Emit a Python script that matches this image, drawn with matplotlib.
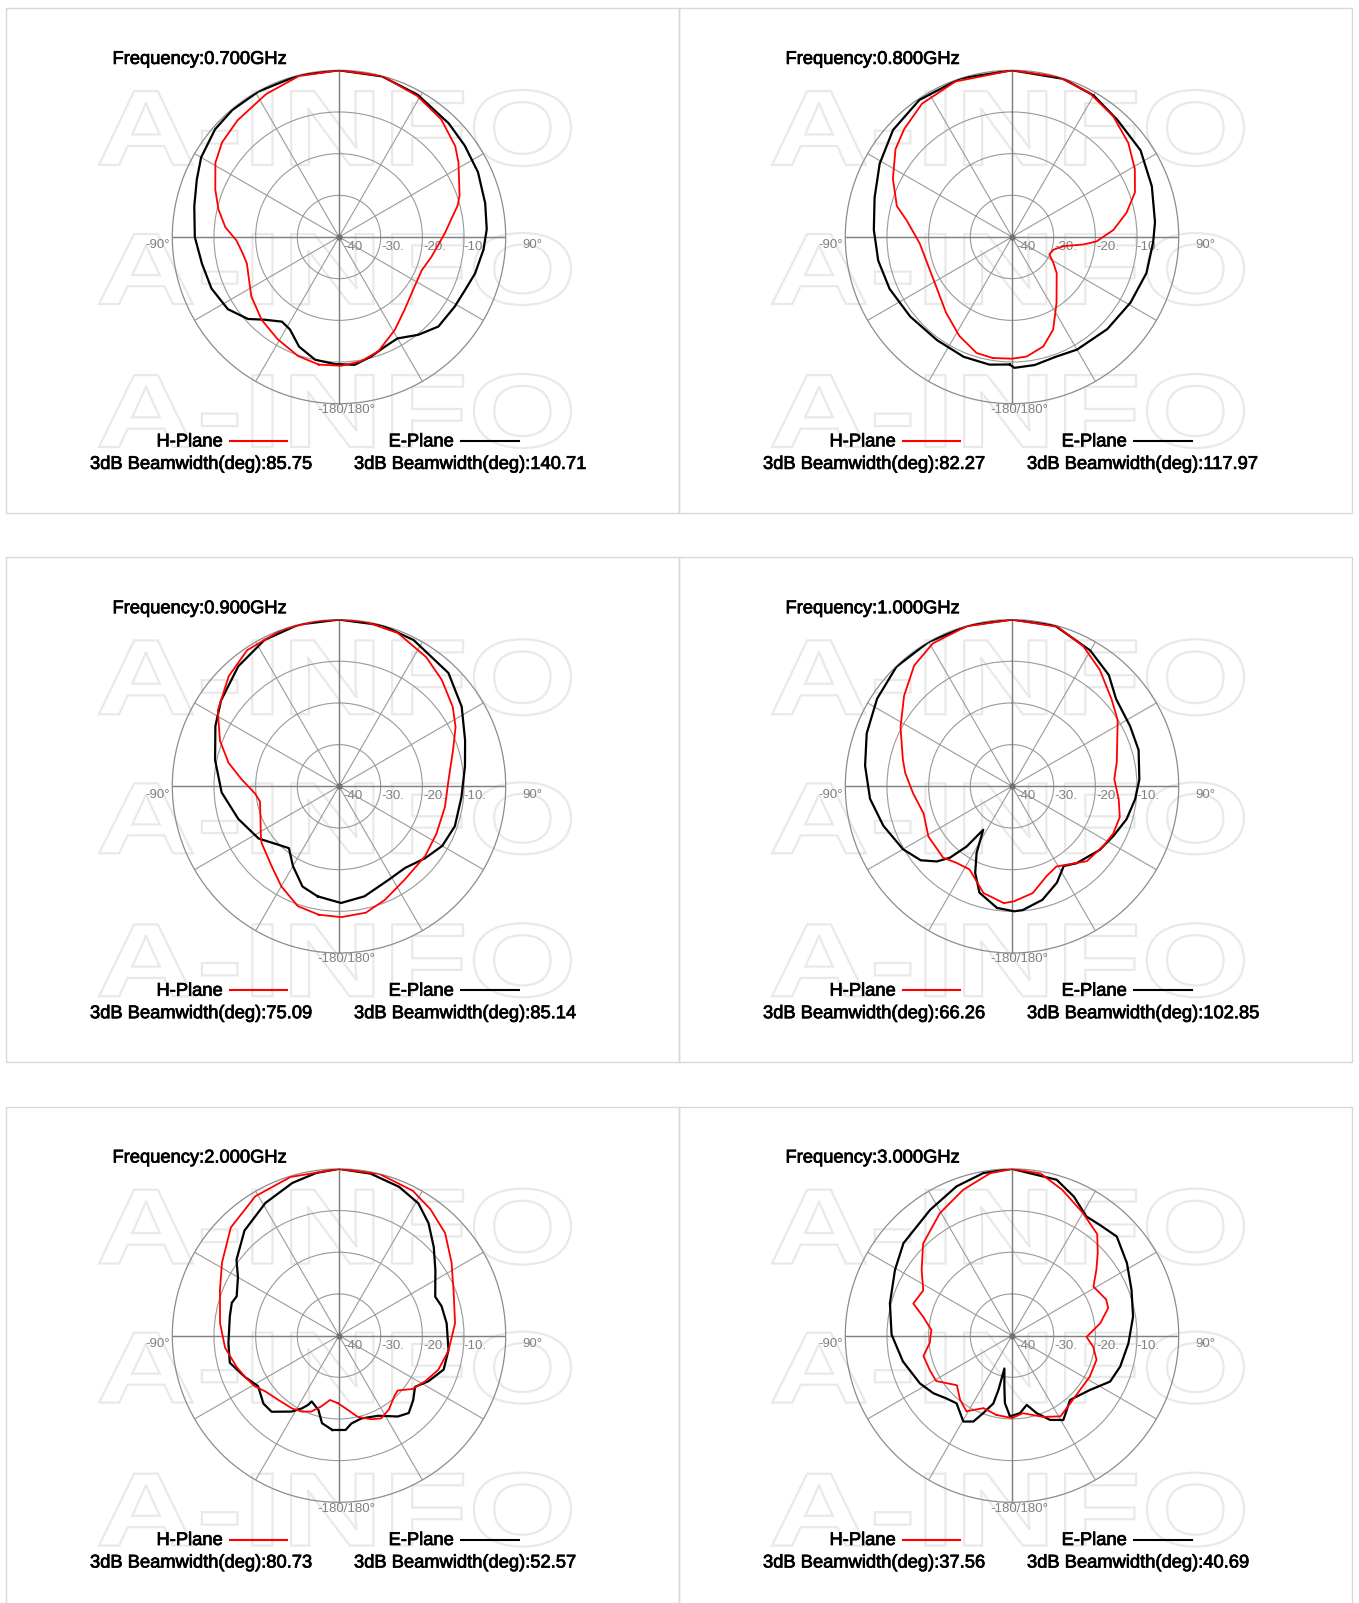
import numpy as np
import matplotlib
matplotlib.use("Agg")
import matplotlib.pyplot as plt
import matplotlib.patheffects as pe
from matplotlib.patches import PathPatch, Rectangle
from matplotlib.textpath import TextPath
from matplotlib.font_manager import FontProperties
from matplotlib.transforms import Affine2D

plt.rcParams['font.family'] = ['Liberation Sans', 'DejaVu Sans']

W, H = 1359, 1603

frequencies = ["0.700", "0.800", "0.900", "1.000", "2.000", "3.000"]
h_beamwidths = ["85.75", "82.27", "75.09", "66.26", "80.73", "37.56"]
e_beamwidths = ["140.71", "117.97", "85.14", "102.85", "52.57", "40.69"]

# angle in deg (0 = top, clockwise), gain in dB (0 at outer ring, -40 at centre)
h07_ang = [-171, -161, -149, -137, -124, -106, -100, -92, -85, -77, -69, -59, -51, -41, -27, -14, 0, 15, 29, 41,
           52, 58, 71, 75, 88, 102, 112, 125, 138, 149, 161, 170, 179]
h07_db = [-9.0, -9.8, -11.4, -12.8, -14.6, -17.0, -16.6, -15.4, -12.6, -10.3, -8.2, -5.4, -3.9, -2.9, -1.5, -0.2, 0.0,
          0.0, -1.3, -2.6, -4.6, -6.2, -9.4, -10.5, -14.6, -17.3, -18.6, -18.2, -16.5, -14.0, -11.0, -9.7, -9.1]
e07_ang = [-178, -169, -160, -152, -146, -138, -132, -123, -112, -101, -90, -78, -68, -60, -49, -40, -29, -14, 0, 15,
           29, 44, 54, 65, 77, 87, 95, 105, 113, 121, 132, 141, 150, 157, 165, 173]
e07_db = [-9.5, -10.0, -12.0, -14.9, -15.5, -13.3, -10.6, -8.2, -7.0, -6.5, -5.4, -4.5, -3.2, -1.8, -0.6, -0.2, -0.1,
          0.0, 0.0, -0.1, -1.0, -2.1, -2.7, -3.2, -4.0, -4.5, -5.2, -6.2, -7.2, -7.6, -7.9, -9.8, -11.9, -11.5, -10.3,
          -9.1]

h08_ang = [-171, -163, -152, -139, -118, -94, -81, -75, -64, -53, -45, -34, -20, 0, 16, 28, 40, 51, 61, 70,
           78, 86, 93, 96, 100, 107, 115, 122, 129, 146, 156, 164, 173, 180]
h08_db = [-10.6, -10.9, -13.1, -15.9, -18.6, -17.8, -14.4, -11.4, -8.2, -5.0, -3.4, -1.4, -0.3, 0.0, 0.0, -0.7, -2.2,
          -4.1, -6.3, -8.6, -11.9, -15.6, -19.7, -22.8, -27.4, -29.6, -30.1, -28.3, -26.2, -20.9, -15.7, -12.7, -11.1,
          -10.8]
e08_ang = [-179, -170, -158, -144, -128, -113, -100, -87, -74, -61, -48, -34, -18, 0, 18, 30, 42, 56, 70, 84,
           92, 105, 119, 134, 150, 160, 170, 179]
e08_db = [-9.4, -8.9, -9.0, -9.4, -9.0, -8.1, -7.4, -6.8, -5.7, -3.7, -1.6, -0.3, 0.0, 0.0, -0.1, -0.8, -2.2, -2.8,
          -4.3, -5.5, -6.1, -6.6, -7.5, -8.2, -8.8, -9.4, -8.8, -8.6]

h09_ang = [-171, -161, -150, -140, -126, -121, -111, -101, -95, -86, -78, -69, -58, -45, -34, -20, -8, 0, 9, 21,
           34, 44, 55, 63, 72, 87, 101, 116, 129, 145, 158, 168, 179]
h09_db = [-8.8, -9.6, -12.3, -14.9, -17.0, -18.1, -19.8, -20.7, -19.8, -16.6, -12.9, -9.4, -5.7, -2.6, -0.6, 0.0, 0.0,
          0.0, 0.0, -0.6, -2.6, -4.5, -6.7, -8.6, -11.2, -13.7, -14.1, -14.0, -13.4, -12.6, -10.6, -9.0, -8.6]
e09_ang = [-169, -160, -150, -141, -134, -123, -108, -93, -78, -64, -54, -40, -27, -14, 0, 15, 27, 44, 57, 70,
           81, 95, 109, 120, 130, 141, 152, 167, 179]
e09_db = [-13.1, -14.4, -17.9, -20.9, -19.8, -17.0, -14.6, -11.8, -9.6, -7.0, -5.0, -2.4, -0.6, 0.0, 0.0, 0.0, -0.6,
          -2.2, -4.9, -7.8, -9.4, -10.5, -10.6, -11.4, -13.1, -14.8, -14.6, -12.9, -12.0]

h10_ang = [-176, -165, -153, -144, -136, -121, -107, -94, -83, -76, -62, -50, -39, -29, -16, 0, 16, 27, 37, 49,
           58, 77, 86, 97, 106, 115, 123, 135, 151, 159, 169, 179]
h10_db = [-11.9, -13.5, -17.6, -17.3, -16.2, -16.6, -17.8, -16.2, -14.2, -13.0, -9.7, -6.2, -2.7, -0.8, -0.1, 0.0,
          -0.2, -2.3, -5.0, -8.3, -10.1, -14.2, -15.4, -14.2, -13.1, -13.2, -13.8, -14.6, -18.0, -16.9, -13.9, -12.4]
e10_ang = [-173, -163, -157, -152, -146.5, -143, -139, -135, -129, -120, -107, -95, -82, -70, -57, -44, -30, -15, 0,
           15, 30, 41, 50, 63, 74, 87, 96, 106, 116, 126, 140, 147, 155, 165, 175, 179]
e10_db = [-10.6, -13.3, -17.4, -21.9, -27.5, -21.9, -17.3, -14.5, -11.8, -9.8, -7.7, -5.8, -4.4, -2.9, -1.4, -0.1,
          0.0, 0.0, 0.0, -0.1, -2.4, -4.6, -7.4, -8.2, -8.4, -9.4, -10.3, -11.4, -12.9, -14.0, -15.9, -17.2, -14.5,
          -11.8, -10.2, -10.0]

h20_ang = [-179, -172, -166, -160, -154, -147, -137, -127, -121, -114, -107, -96, -84, -69, -58, -45, -31, -17, 0, 14,
           27, 36, 46, 57, 70, 84, 98, 109, 118, 126, 133, 137, 146, 153, 159, 167, 175]
h20_db = [-23.8, -24.4, -22.5, -20.6, -19.7, -19.2, -18.8, -17.8, -16.4, -15.4, -14.3, -12.5, -11.3, -9.4, -6.9, -3.3,
          -1.0, -0.2, 0.0, 0.0, -1.0, -2.6, -4.6, -7.8, -10.7, -12.0, -13.5, -14.8, -16.6, -18.2, -20.7, -20.4, -18.6,
          -17.7, -18.5, -20.0, -22.5]
e20_ang = [-176, -169, -164.5, -157.5, -156, -153, -148, -138.5, -132, -122, -114, -104, -94, -80, -73, -69, -60,
           -53.5, -42, -29, -17, -8, 0, 11, 22, 31, 38.5, 47, 56, 68, 74, 83.5, 97.5, 108, 117, 124, 131, 138, 144,
           154, 165, 172, 176]
e20_db = [-17.3, -18.6, -21.5, -22.9, -21.8, -20.4, -18.5, -15.6, -15.6, -17.1, -15.4, -13.0, -13.4, -13.4, -13.1,
          -13.7, -12.0, -9.4, -6.1, -3.6, -1.7, -0.6, 0.0, -0.4, -1.5, -3.0, -5.5, -8.9, -12.1, -15.1, -14.4, -14.0,
          -13.5, -13.6, -15.9, -18.0, -16.4, -15.0, -16.0, -18.6, -19.4, -18.7, -17.3]

h30_ang = [-169, -158.5, -149, -141, -132, -126, -121, -113, -103, -95, -86, -78, -72, -63, -54, -44, -30.5, -18.5,
           -7.7, 0, 10, 19, 30, 40, 46, 52, 59, 69, 74, 82, 91, 98, 106, 118, 129, 139, 149, 159, 172, 180]
h30_db = [-20.6, -21.3, -18.8, -20.2, -22.2, -20.6, -18.8, -18.6, -18.2, -20.2, -20.6, -18.2, -15.1, -16.1, -13.2,
          -9.3, -5.9, -3.1, -0.7, 0.0, -0.5, -3.0, -6.0, -8.2, -11.4, -14.3, -17.2, -15.8, -16.0, -18.6, -22.1, -20.3,
          -18.9, -18.9, -19.1, -18.6, -17.4, -19.1, -21.2, -20.2]
e30_ang = [-178.6, -174, -171.5, -167, -166, -164.6, -159.7, -155.8, -150.5, -140.7, -133.8, -126.2, -117.4, -103.3,
           -89.5, -75.2, -60.7, -49.6, -33.1, -20.4, -10, 0, 16, 24, 32, 38.5, 46.6, 57.8, 69.1, 81.1, 93.8, 106,
           115.1, 124.9, 137.9, 148.7, 155.7, 162.4, 168, 174.1]
e30_db = [-20.6, -23.7, -27.6, -31.9, -26.6, -23.1, -20.2, -17.4, -16.3, -19.0, -18.2, -16.6, -15.1, -13.1, -11.1,
          -9.7, -7.8, -5.8, -4.0, -1.8, -0.4, 0.0, -1.1, -3.5, -6.3, -6.1, -5.4, -7.4, -9.3, -10.6, -12.0, -13.0,
          -14.0, -17.2, -19.2, -16.3, -17.8, -20.5, -23.0, -21.3]

patterns = [
    (h07_ang, h07_db, e07_ang, e07_db),
    (h08_ang, h08_db, e08_ang, e08_db),
    (h09_ang, h09_db, e09_ang, e09_db),
    (h10_ang, h10_db, e10_ang, e10_db),
    (h20_ang, h20_db, e20_ang, e20_db),
    (h30_ang, h30_db, e30_ang, e30_db),
]

fig = plt.figure(figsize=(W / 100, H / 100), dpi=100)
bg = fig.add_axes([0, 0, 1, 1])
bg.set_xlim(0, W)
bg.set_ylim(H, 0)
bg.axis("off")

# watermark glyphs
wm_path = TextPath((0, 0), "A-INFO", size=100, prop=FontProperties(family="Liberation Sans", weight="bold"))
wm_ext = wm_path.get_extents()


def watermark(x0, y0, w, h):
    tr = (Affine2D().translate(-wm_ext.x0, -wm_ext.y0)
          .scale(w / wm_ext.width, -h / wm_ext.height).translate(x0, y0 + h))
    bg.add_patch(PathPatch(tr.transform_path(wm_path), fc="none", ec="#e9e9e9", lw=1.6, zorder=0))


R = 166.7
FS = 13.2
heavy = [pe.withStroke(linewidth=0.55, foreground="black")]
tick_kw = dict(color="#808080", fontsize=9.5, family=["Liberation Sans Narrow", "Liberation Sans"])
txt_kw = dict(fontsize=FS, ha="left", va="baseline", path_effects=heavy)


def closed(ang, db):
    a = np.radians(np.array(list(ang) + [ang[0] + 360.0]))
    return a, list(db) + [db[0]]


for i, (h_ang, h_db, e_ang, e_db) in enumerate(patterns):
    px = 6 + (i % 2) * 673
    py = 8 + (i // 2) * 549.3
    bg.add_patch(Rectangle((px, py), 673, 505, fill=False, ec="#d8d8d8", lw=1.0, zorder=0))
    for y0, y1 in [(82, 158), (225, 297), (366, 440)]:
        watermark(px + 93, py + y0, 472, y1 - y0)

    cx, cy = px + 333, py + 229
    ax = fig.add_axes([(cx - R) / W, 1 - (cy + R) / H, 2 * R / W, 2 * R / H], projection="polar")
    ax.set_facecolor("none")
    ax.set_theta_zero_location("N")
    ax.set_theta_direction(-1)
    ax.set_ylim(-40, 0)
    ax.set_thetagrids(np.arange(0, 360, 30))
    ax.set_yticks([-30, -20, -10])
    ax.set_xticklabels([])
    ax.set_yticklabels([])
    ax.tick_params(length=0)
    ax.grid(True, color="#9a9a9a", lw=0.8)
    ax.spines["polar"].set_color("#8c8c8c")
    ax.spines["polar"].set_linewidth(0.9)
    for a in (0, 90, 180, 270):
        ax.plot([np.radians(a)] * 2, [-40, 0], color="#808080", lw=1.0, zorder=2)
    ax.plot([0], [-40], "o", ms=3.5, color="#707070", zorder=3)

    ea, ed = closed(e_ang, e_db)
    ha, hd = closed(h_ang, h_db)
    ax.plot(ea, ed, color="black", lw=1.6, zorder=4)
    ax.plot(ha, hd, color="#ff0000", lw=1.3, zorder=5)

    # axis labels
    bg.text(cx - 169, cy + 8.5, "-90°", ha="right", va="center", **tick_kw)
    bg.text(cx + 183.6, cy + 8.5, "90°", ha="left", va="center", **tick_kw)
    bg.text(cx + 7.5, cy + 173, "-180/180°", ha="center", va="center", **tick_kw)
    for dx, lab in [(4.3, "-40"), (42.7, "-30."), (84, "-20."), (124, "-10.")]:
        bg.text(cx + dx, cy + 10, lab, ha="left", va="center", **tick_kw)

    base = 0.36 * FS * 100 / 72
    bg.text(px + 106.5, py + 49.3 + base, "Frequency:" + frequencies[i] + "GHz", **txt_kw)
    bg.text(px + 150.5, py + 431.8 + base, "H-Plane", **txt_kw)
    bg.plot([px + 224, px + 281.4], [py + 433, py + 433], color="#ff0000", lw=1.5)
    bg.text(px + 382.6, py + 431.8 + base, "E-Plane", **txt_kw)
    bg.plot([px + 455, px + 512.5], [py + 433, py + 433], color="black", lw=1.5)
    bg.text(px + 84, py + 454.3 + base, "3dB Beamwidth(deg):" + h_beamwidths[i], **txt_kw)
    bg.text(px + 348, py + 454.3 + base, "3dB Beamwidth(deg):" + e_beamwidths[i], **txt_kw)

fig.savefig("out.png", dpi=100)
